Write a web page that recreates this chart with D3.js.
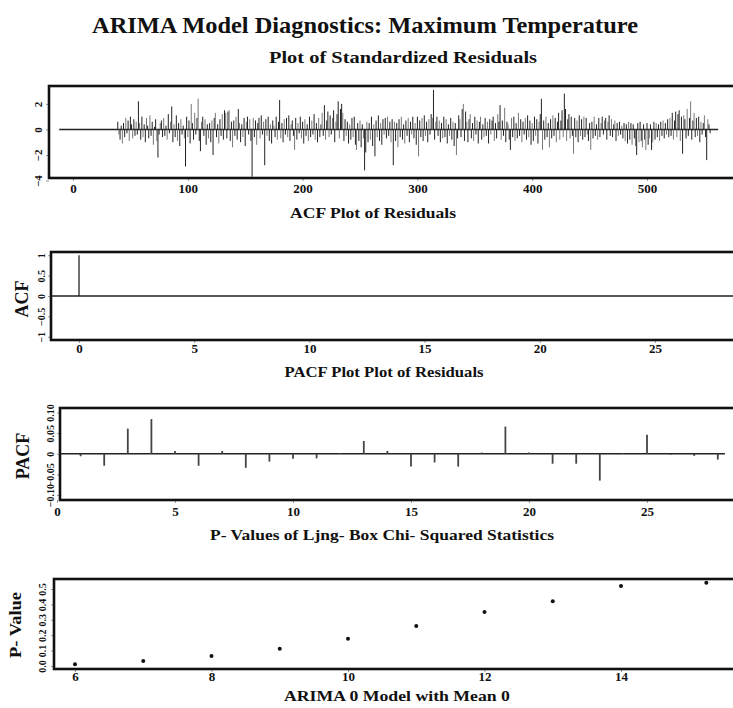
<!DOCTYPE html>
<html><head><meta charset="utf-8">
<script src="https://cdn.jsdelivr.net/npm/d3@7"></script>
<style>
body{margin:0;background:#fff;}
svg{display:block;}
text{font-family:"Liberation Serif","Times New Roman",serif;font-weight:bold;fill:#111;}
</style></head>
<body>
<script>
// ---------- DATA ----------
const mainTitle = "ARIMA Model Diagnostics: Maximum Temperature";
const panelTitles = ["Plot of Standardized Residuals","ACF Plot of Residuals","PACF Plot Plot of Residuals","P- Values of Ljng- Box Chi- Squared Statistics","ARIMA 0 Model with Mean 0"];
const yTitles = ["ACF","PACF","P- Value"];

// standardized residuals, index 39..555 (earlier values are 0)
const residStart = 39;
const residBaseline = [-12, 562];
const residuals = [
0.6,-0.4,-0.8,0.3,-1.1,0.5,-0.6,0.9,-0.3,0.7,-0.9,1.0,0.4,-0.7,0.8,-0.5,0.6,-0.4,2.2,0.5,
-0.8,1.0,-0.6,0.4,-1.0,0.9,0.3,-0.7,1.1,-0.5,0.6,-1.2,0.2,0.8,-0.9,-2.2,-0.4,0.5,0.7,-0.6,
0.9,-0.5,0.3,-0.8,1.2,-0.3,0.6,1.8,-1.0,0.4,-0.6,1.1,-0.9,0.5,-1.3,0.8,-0.4,0.3,-0.7,-2.9,
1.0,-0.6,0.7,-1.1,2.0,0.5,-0.8,1.3,-0.4,0.9,2.4,-0.9,-1.7,0.6,1.0,-0.5,0.8,-1.2,0.4,-0.7,
0.5,-1.0,0.7,-2.0,0.9,1.3,-0.6,0.4,-1.1,0.8,-0.5,1.2,-0.8,1.5,1.3,-0.7,1.4,1.5,-0.9,0.6,
-1.4,0.7,-0.5,1.0,-0.8,1.6,0.5,-1.0,0.4,-0.6,0.9,-1.3,0.6,1.0,-0.4,0.8,-0.9,-3.7,0.9,-0.6,
0.7,-1.2,0.5,0.9,-0.7,1.1,-0.4,0.6,-2.8,0.8,-0.5,1.0,-0.9,0.4,-1.1,0.7,0.3,-0.6,1.0,-0.8,
0.6,2.3,-0.7,0.5,-1.0,0.8,-0.4,0.9,-0.6,1.1,-0.9,0.4,0.7,-0.5,-1.6,0.9,-0.8,0.5,-0.3,1.0,
-0.7,0.6,-1.1,0.8,-0.5,0.4,-0.9,1.0,-0.6,0.7,-0.4,1.2,-0.8,0.5,-1.0,0.9,-0.6,0.4,1.3,-0.5,
1.9,-0.8,0.7,1.4,-0.6,1.1,-0.4,0.9,1.5,-1.0,0.6,1.2,2.2,-0.7,1.6,2.0,1.3,-0.9,0.8,-0.5,
0.6,-1.1,0.4,-0.8,0.9,-0.6,1.0,-1.2,-1.6,0.5,-0.9,0.7,-1.4,0.4,-0.7,-3.2,-1.8,0.6,-1.0,0.5,
-0.8,1.0,-1.3,0.4,-2.1,0.7,-0.6,1.1,-0.9,0.5,-1.2,0.8,-0.4,0.9,-0.7,1.0,-0.5,0.6,-1.0,0.8,
-2.8,0.6,-0.9,0.5,-1.4,0.8,-0.6,1.0,-0.8,0.4,-1.1,0.7,-0.5,0.9,-1.0,0.6,-0.4,1.0,-0.7,0.5,
-1.2,1.0,-2.1,0.7,-0.6,0.9,-0.9,1.1,-0.5,0.6,-1.0,0.8,-0.4,1.2,0.9,3.1,-0.8,0.6,1.0,-0.5,
0.7,-1.0,0.5,-0.7,1.0,-0.6,0.8,-1.1,0.4,-0.5,0.9,-0.8,0.6,-1.3,0.5,-2.0,-0.7,1.1,0.8,-0.6,
1.6,2.0,-0.9,1.4,0.6,-1.0,0.8,1.2,-0.7,0.5,-0.9,1.0,-0.4,0.7,-1.1,0.6,1.0,-0.8,0.4,-0.6,
0.9,-0.5,0.6,-1.1,0.8,-0.4,0.7,1.0,-0.9,0.5,-0.7,1.2,0.6,1.9,-0.8,0.7,-0.5,1.7,-1.0,0.6,
0.4,-0.8,-1.6,0.9,-0.6,1.0,-0.9,0.5,-0.7,1.3,-0.5,0.8,-1.0,0.6,-0.4,0.9,-0.8,1.1,-0.6,0.7,
-1.2,0.5,-0.9,1.0,-0.5,0.8,-1.1,0.6,1.2,2.4,-1.6,0.7,-0.8,1.0,-0.6,0.5,-1.4,0.8,-0.7,1.1,
-0.5,0.9,-1.0,0.6,1.3,-0.8,0.7,1.5,-0.6,2.8,1.6,-0.9,0.8,1.2,-0.7,1.0,-0.5,-1.9,0.9,-0.6,
0.7,-1.0,1.1,-0.5,0.8,-0.8,1.0,-0.6,0.9,-0.4,-0.9,0.5,-1.6,0.6,-0.7,1.0,-0.5,0.4,-0.8,0.9,
-0.6,0.5,1.0,-0.4,0.7,0.9,-0.8,0.6,1.1,-0.5,0.8,-0.6,0.4,0.7,-0.9,0.5,-0.5,0.6,-0.4,0.3,
-0.7,0.5,-0.9,0.4,-1.1,0.6,-0.8,0.5,-1.2,0.4,-0.7,-1.3,-2.0,0.5,-1.0,0.6,-0.9,-1.4,0.4,-0.8,
-1.6,0.5,-1.2,-0.7,0.4,-1.6,-1.0,0.6,-0.8,0.5,-0.6,0.4,-0.9,0.6,-0.5,0.7,-0.7,0.5,-0.4,0.8,
-0.6,0.9,-0.5,1.3,-0.8,0.7,1.4,-0.6,1.2,1.5,-0.9,1.0,-1.9,1.1,0.8,-0.7,1.6,-0.5,0.9,2.2,
-0.8,0.7,1.3,-0.6,0.9,-0.5,1.0,-1.0,0.6,-0.4,0.5,1.1,-0.6,-2.4,0.8,0.4,-0.3
];
const residXTicks = [0,100,200,300,400,500];
const residYTicks = [2,0,-2,-4];

// ACF of residuals
const acfLags = [0,1,2,3,4,5,6,7,8,9,10,11,12,13,14,15,16,17,18,19,20,21,22,23,24,25,26,27,28];
const acfVals = [1,0.01,0.005,0.012,0.015,0.008,0.01,0.004,0.006,0.003,0.002,0.003,0.002,0.004,0.005,0.012,0.01,0.014,0.012,0.016,0.015,0.012,0.01,0.009,0.008,0.01,0.004,0.003,0.002];
const acfXTicks = [0,5,10,15,20,25];
const acfYTicks = [-1,-0.5,0,0.5,1];

// PACF of residuals
const pacfLags = [1,2,3,4,5,6,7,8,9,10,11,12,13,14,15,16,17,18,19,20,21,22,23,24,25,26,27,28];
const pacfVals = [-0.006,-0.029,0.061,0.084,0.007,-0.029,0.007,-0.034,-0.019,-0.012,-0.011,0.002,0.031,0.007,-0.031,-0.021,-0.031,0.003,0.066,0.003,-0.024,-0.024,-0.065,0.002,0.046,-0.002,-0.005,-0.014];
const pacfXTicks = [0,5,10,15,20,25];
const pacfYTicks = [-0.10,-0.05,0,0.05,0.10];

// Ljung-Box p-values
const lbLags = [6,7,8,9,10,11,12,13,14,15.25];
const lbPvals = [0.011,0.032,0.065,0.112,0.177,0.26,0.35,0.42,0.52,0.54];
const lbXTicks = [6,8,10,12,14];
const lbYTicks = [0,0.1,0.2,0.3,0.4,0.5];

// ---------- DRAW ----------
const W = 733, H = 708;
const svg = d3.select("body").append("svg").attr("width", W).attr("height", H);
svg.append("rect").attr("width", W).attr("height", H).attr("fill", "#fff");

function addText(x, y, str, size, opts = {}) {
  const t = svg.append("text").attr("x", x).attr("y", y).attr("text-anchor", "middle")
    .attr("font-size", size).text(str);
  if (opts.len) t.attr("textLength", opts.len).attr("lengthAdjust", "spacingAndGlyphs");
  if (opts.rotate) t.attr("transform", `rotate(-90,${x},${y})`);
  return t;
}

function panel(p) {
  const g = svg.append("g");
  const xa = g.append("g").attr("transform", `translate(0,${p.y1})`)
    .call(d3.axisBottom(p.x).tickValues(p.xTicks).tickSize(3).tickFormat(d3.format("d")));
  xa.select(".domain").remove();
  xa.selectAll("line").attr("stroke", "#999");
  xa.selectAll("text").attr("font-size", 13).attr("y", p.xLabOff).attr("dy", "0.71em")
    .attr("font-family", '"Liberation Serif",serif').attr("font-weight", "bold").attr("fill", "#111");
  const ya = g.append("g").attr("transform", `translate(${p.x0},0)`)
    .call(d3.axisLeft(p.y).tickValues(p.yTicks).tickSize(3).tickFormat(p.yFmt));
  ya.select(".domain").remove();
  ya.selectAll("line").attr("stroke", "#999");
  ya.selectAll("text").attr("font-size", p.yLabSize || 10).attr("x", 0).attr("y", 0).attr("dy", "0.35em")
    .attr("text-anchor", "middle").attr("transform", `translate(${-p.yLabOff},0) rotate(-90)`)
    .attr("font-family", '"Liberation Serif",serif').attr("font-weight", "bold").attr("fill", "#111");
  g.append("rect").attr("x", p.x0).attr("y", p.y0).attr("width", p.x1 - p.x0).attr("height", p.y1 - p.y0)
    .attr("fill", "none").attr("stroke", "#111").attr("stroke-width", 2.6);
  const clipId = "clip" + p.id;
  svg.append("clipPath").attr("id", clipId).append("rect")
    .attr("x", p.x0).attr("y", p.y0).attr("width", p.x1 - p.x0).attr("height", p.y1 - p.y0);
  return g.append("g").attr("clip-path", `url(#${clipId})`);
}

// Titles
addText(365, 33, mainTitle, 24, { len: 546 });
addText(403, 63, panelTitles[0], 17, { len: 268 });

// Panel 1: residuals
{
  const x = d3.scaleLinear().domain([0, 500]).range([73, 647]);
  const y = d3.scaleLinear().domain([-3.8, 3.4]).range([178, 86]);
  const inner = panel({ id: 1, x, y, x0: 49, x1: 740, y0: 86, y1: 178, xTicks: residXTicks, yTicks: residYTicks,
    yFmt: d3.format("d"), xLabOff: 6, yLabOff: 11, yLabSize: 11 });
  inner.append("line").attr("x1", x(residBaseline[0])).attr("x2", x(residBaseline[1]))
    .attr("y1", y(0)).attr("y2", y(0)).attr("stroke", "#222").attr("stroke-width", 1.4);
  inner.selectAll("line.r").data(residuals).join("line").attr("class", "r")
    .attr("x1", (d, i) => x(residStart + i)).attr("x2", (d, i) => x(residStart + i))
    .attr("y1", y(0)).attr("y2", d => y(d))
    .attr("stroke", (d, i) => (i % 3 === 1 ? "#777" : "#222")).attr("stroke-width", 1);
}
addText(373, 218, panelTitles[1], 15, { len: 166 });

// Panel 2: ACF
{
  const x = d3.scaleLinear().domain([0, 25]).range([79, 655]);
  const y = d3.scaleLinear().domain([-1.08, 1.08]).range([340, 252]);
  const inner = panel({ id: 2, x, y, x0: 51, x1: 740, y0: 252, y1: 340, xTicks: acfXTicks, yTicks: acfYTicks,
    yFmt: d => (d === 0 ? "0" : d3.format("")(d)), xLabOff: 4, yLabOff: 10 });
  inner.append("line").attr("x1", 51).attr("x2", 740).attr("y1", y(0)).attr("y2", y(0))
    .attr("stroke", "#222").attr("stroke-width", 1.5);
  inner.selectAll("line.a").data(acfVals).join("line").attr("class", "a")
    .attr("x1", (d, i) => x(acfLags[i])).attr("x2", (d, i) => x(acfLags[i]))
    .attr("y1", y(0)).attr("y2", d => y(d)).attr("stroke", (d, i) => (i === 0 ? "#111" : "#666")).attr("stroke-width", 1.2);
}
addText(28, 299, yTitles[0], 18, { rotate: true });
addText(384, 377, panelTitles[2], 15, { len: 199 });

// Panel 3: PACF
{
  const x = d3.scaleLinear().domain([0, 25]).range([57, 647]);
  const y = d3.scaleLinear().domain([-0.112, 0.111]).range([500, 408]);
  const inner = panel({ id: 3, x, y, x0: 60, x1: 740, y0: 408, y1: 500, xTicks: pacfXTicks, yTicks: pacfYTicks,
    yFmt: d => (d === 0 ? "0" : d3.format(".2f")(d)), xLabOff: 7, yLabOff: 10 });
  inner.append("line").attr("x1", x(0)).attr("x2", x(28.3)).attr("y1", y(0)).attr("y2", y(0))
    .attr("stroke", "#222").attr("stroke-width", 1.5);
  inner.selectAll("line.p").data(pacfVals).join("line").attr("class", "p")
    .attr("x1", (d, i) => x(pacfLags[i])).attr("x2", (d, i) => x(pacfLags[i]))
    .attr("y1", y(0)).attr("y2", d => y(d)).attr("stroke", "#444").attr("stroke-width", 1.8);
}
addText(29, 456, yTitles[1], 18, { rotate: true });
addText(382, 540, panelTitles[3], 15, { len: 344 });

// Panel 4: Ljung-Box p-values
{
  const x = d3.scaleLinear().domain([6, 14]).range([75, 621]);
  const y = d3.scaleLinear().domain([-0.02, 0.565]).range([669, 579]);
  const inner = panel({ id: 4, x, y, x0: 54, x1: 740, y0: 579, y1: 669, xTicks: lbXTicks, yTicks: lbYTicks,
    yFmt: d => (d === 0 ? "0.0" : d3.format(".1f")(d)), xLabOff: 3, yLabOff: 12 });
  inner.selectAll("circle").data(lbPvals).join("circle")
    .attr("cx", (d, i) => x(lbLags[i])).attr("cy", d => y(d)).attr("r", 2).attr("fill", "#111");
}
addText(21, 625, yTitles[2], 16, { rotate: true, len: 66 });
addText(397, 701, panelTitles[4], 15, { len: 226 });
</script>
</body></html>
